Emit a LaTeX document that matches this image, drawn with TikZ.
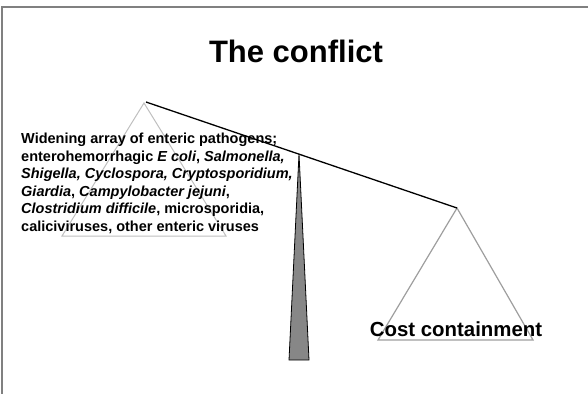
\documentclass[tikz,border=0pt]{standalone}
\usepackage{fontspec}
\setmainfont{Liberation Sans}
\begin{document}
\begin{tikzpicture}[x=1pt,y=-1pt,
  frame/.style={draw=black!50,line width=2pt},
  pan/.style={draw=black!25,line width=1pt},
  panR/.style={draw=black!38,line width=1.2pt},
  beam/.style={draw=black,line width=1.3pt},
  fulcrum/.style={draw=black,fill=black!47,line width=0.8pt},
  txt/.style={inner sep=0pt,font=\bfseries}]
\useasboundingbox (0,0) rectangle (588,394);
% frame
\coordinate (fTL) at (1.5,7);
\coordinate (fTR) at (588,7);
\coordinate (fBL) at (1.5,394);
\draw[frame] (fTR) -- (fTL) -- (fBL);
% title
\node[txt,anchor=base,font=\bfseries\fontsize{31}{36}\selectfont] (title) at (296,62) {The conflict};
% left pan
\coordinate (Lapex) at (144,103);
\coordinate (Lbl) at (62,236);
\coordinate (Lbr) at (226,236);
\draw[pan] (Lapex) -- (Lbl) -- (Lbr) -- cycle;
% left text
\node[txt,anchor=north west,align=left,font=\bfseries\fontsize{14.5}{17.6}\selectfont] (lefttext) at (21,132.8)
{Widening array of enteric pathogens;\\
enterohemorrhagic \textit{E coli}, \textit{Salmonella,}\\
\textit{Shigella, Cyclospora, Cryptosporidium,}\\
\textit{Giardia}, \textit{Campylobacter jejuni},\\
\textit{Clostridium difficile}, microsporidia,\\
caliciviruses, other enteric viruses};
% right pan
\coordinate (Rapex) at (457,208);
\coordinate (Rbl) at (378,340);
\coordinate (Rbr) at (533,340);
\draw[panR] (Rapex) -- (Rbl) -- (Rbr) -- cycle;
\node[txt,anchor=base,font=\bfseries\fontsize{20.4}{24}\selectfont] (righttext) at (456,336) {Cost containment};
% beam
\coordinate (Bl) at (146,102);
\coordinate (Br) at (457,208);
\draw[beam] (Bl) -- (Br);
% fulcrum
\coordinate (Ftop) at (299,154);
\coordinate (Fbl) at (289,360);
\coordinate (Fbr) at (309,360);
\draw[fulcrum] (Ftop) -- (Fbl) -- (Fbr) -- cycle;
\end{tikzpicture}
\end{document}
